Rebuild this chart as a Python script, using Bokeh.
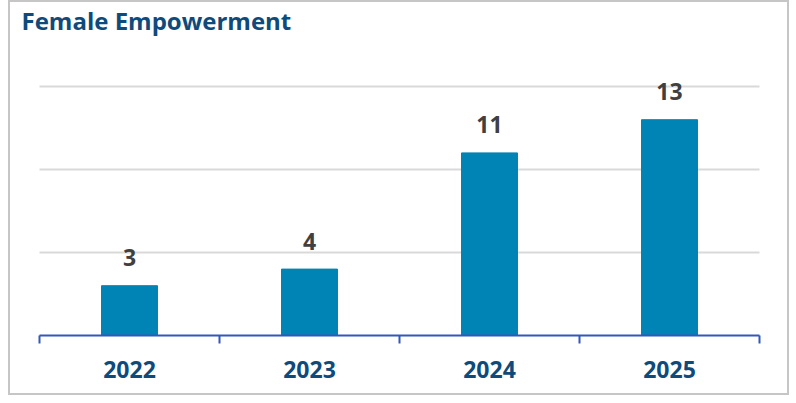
from bokeh.plotting import figure
from bokeh.models import Range1d, FixedTicker, Label
from bokeh.core.properties import value
from bokeh.embed import file_html
from bokeh.resources import INLINE

years = ["2022", "2023", "2024", "2025"]
counts = [3, 4, 11, 13]
grid_values = [5, 10, 15]
title_text = "Female Empowerment"

xs = [i + 0.5 for i in range(len(years))]
bounds = [float(i) for i in range(len(years) + 1)]
n = len(years)

FONT = "Open Sans"

p = figure(width=781, height=395, output_backend="svg", toolbar_location=None,
           x_range=Range1d(-29 / 180, 752 / 180), y_range=Range1d(0, 333 / 16.6),
           min_border_left=0, min_border_right=0, min_border_top=0,
           min_border_bottom=62)
p.styles = {"border": "2px solid #c6c6c6", "margin-left": "8px"}
p.outline_line_color = None

p.add_layout(Label(x=11, y=315, x_units="screen", y_units="screen",
                   text=title_text, text_font=FONT, text_font_size="24px",
                   text_font_style="bold", text_color="#0e4a7c",
                   text_baseline="alphabetic"))

p.vbar(x=xs, top=counts, width=0.311, color="#0083b5")
p.text(x=xs, y=counts, text=[str(c) for c in counts], text_align="center",
       text_baseline="alphabetic", y_offset=-28, text_font=value(FONT),
       text_font_size="23px", text_font_style="bold", text_color="#404040")

p.xaxis.bounds = (0, n)
p.xaxis.ticker = FixedTicker(ticks=xs, minor_ticks=bounds)
p.xaxis.major_label_overrides = {x: y for x, y in zip(xs, years)}
p.xaxis.major_tick_line_color = None
p.xaxis.major_tick_out = 0
p.xaxis.major_tick_in = 0
p.xaxis.minor_tick_line_color = "#3358bb"
p.xaxis.minor_tick_line_width = 2
p.xaxis.minor_tick_out = 8
p.xaxis.minor_tick_in = 0
p.xaxis.axis_line_color = "#3358bb"
p.xaxis.axis_line_width = 2
p.xaxis.major_label_text_font = FONT
p.xaxis.major_label_text_font_size = "23px"
p.xaxis.major_label_text_font_style = "bold"
p.xaxis.major_label_text_color = "#0e4a7c"
p.xaxis.major_label_standoff = 17

p.yaxis.visible = False
p.xgrid.visible = False
p.ygrid.ticker = FixedTicker(ticks=grid_values)
p.ygrid.cross_bounds = (0, n)
p.ygrid.grid_line_color = "#d9d9d9"
p.ygrid.grid_line_width = 2

open("out.html", "w").write(file_html(p, INLINE))
